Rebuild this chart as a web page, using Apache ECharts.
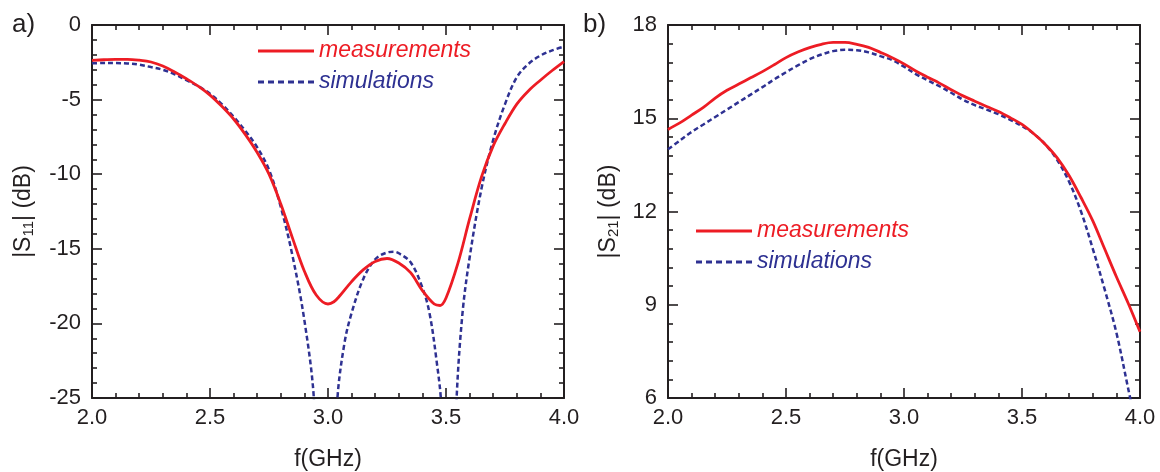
<!DOCTYPE html>
<html>
<head>
<meta charset="utf-8">
<script src="https://cdn.jsdelivr.net/npm/echarts@6/dist/echarts.min.js"></script>
<style>
html,body{margin:0;padding:0;background:#fff;}
#chart{width:1160px;height:472px;}
</style>
</head>
<body>
<div id="chart"></div>
<script>
// ---- Data (a): |S11| (dB) ----
var fS11Meas = [2.00,2.05,2.10,2.15,2.20,2.25,2.30,2.35,2.40,2.45,2.50,2.55,2.60,2.65,2.70,2.75,2.80,2.85,2.90,2.95,3.00,3.025,3.05,3.10,3.15,3.20,3.25,3.30,3.35,3.40,3.45,3.475,3.50,3.55,3.60,3.65,3.70,3.75,3.80,3.85,3.90,3.95,4.00];
var s11Meas  = [-2.37,-2.33,-2.30,-2.30,-2.36,-2.48,-2.75,-3.15,-3.6,-4.1,-4.7,-5.45,-6.3,-7.35,-8.55,-10.0,-12.0,-14.3,-16.5,-18.1,-18.7,-18.55,-18.15,-17.2,-16.4,-15.85,-15.65,-15.95,-16.6,-17.8,-18.7,-18.8,-18.3,-16.0,-13.0,-10.2,-8.1,-6.6,-5.3,-4.4,-3.7,-3.05,-2.45];
var fS11Sim  = [2.00,2.05,2.10,2.15,2.20,2.25,2.30,2.35,2.40,2.45,2.50,2.55,2.60,2.65,2.70,2.75,2.80,2.85,2.90,2.94,2.985,3.04,3.07,3.10,3.15,3.20,3.25,3.28,3.30,3.35,3.40,3.43,3.46,3.48,3.51,3.545,3.57,3.60,3.65,3.70,3.75,3.80,3.85,3.90,3.95,4.00];
var s11Sim   = [-2.57,-2.55,-2.55,-2.58,-2.66,-2.82,-3.0,-3.3,-3.7,-4.1,-4.6,-5.3,-6.15,-7.1,-8.2,-9.7,-12.2,-15.5,-19.8,-25.0,-40,-25.0,-21.3,-19.3,-17.0,-15.7,-15.25,-15.2,-15.3,-15.9,-17.6,-19.3,-22.5,-25.5,-40,-25.0,-19.3,-15.6,-11.0,-7.7,-5.3,-3.5,-2.6,-2.05,-1.7,-1.45];

// ---- Data (b): |S21| (dB) ----
var fS21 = [2.00,2.05,2.10,2.15,2.20,2.25,2.30,2.35,2.40,2.45,2.50,2.55,2.60,2.65,2.70,2.75,2.80,2.85,2.90,2.95,3.00,3.05,3.10,3.15,3.20,3.25,3.30,3.35,3.40,3.45,3.50,3.55,3.60,3.65,3.70,3.75,3.80,3.85,3.90,3.95,4.00];
var s21Meas = [14.64,14.85,15.1,15.35,15.65,15.9,16.1,16.3,16.5,16.72,16.95,17.13,17.27,17.38,17.44,17.44,17.38,17.28,17.12,16.95,16.75,16.52,16.32,16.13,15.92,15.72,15.55,15.38,15.22,15.02,14.8,14.5,14.15,13.72,13.15,12.45,11.7,10.8,9.9,9.05,8.13];
var s21Sim  = [14.0,14.28,14.56,14.8,15.04,15.28,15.52,15.76,16.0,16.25,16.48,16.7,16.9,17.05,17.16,17.2,17.19,17.12,17.0,16.87,16.66,16.42,16.22,16.03,15.82,15.6,15.42,15.28,15.13,14.95,14.75,14.5,14.15,13.65,12.95,12.0,10.8,9.5,8.1,6.3,4.5];

var seriesNames = ['measurements','simulations'];
var panelLabels = ['a)','b)'];
var xName = 'f(GHz)';

function pairs(xs, ys){ return xs.map(function(x,i){ return [x, ys[i]]; }); }

var RED = '#ed1c24', BLUE = '#2e3192', INK = '#231f20';
var FONT = 'Liberation Sans, Arial, Helvetica, sans-serif';

function xAx(gi, pos){
  return {
    type:'value', gridIndex:gi, position:pos, min:2, max:4, interval:0.5,
    name: pos==='bottom' ? xName : '', nameLocation:'middle', nameGap:50,
    nameTextStyle:{fontSize:23, color:INK, fontFamily:FONT},
    axisLine:{show:true, onZero:false, lineStyle:{color:INK, width:2}},
    axisTick:{show:true, inside:true, length:10, lineStyle:{color:INK, width:1.6}},
    minorTick:{show:true, splitNumber:5, length:5, lineStyle:{color:INK, width:1.6}},
    splitLine:{show:false},
    axisLabel:{show: pos==='bottom', fontSize:22, color:INK, fontFamily:FONT, margin:9,
      formatter:function(v){ return v.toFixed(1); }}
  };
}
function yAx(gi, pos, min, max, interval, name, gap){
  return {
    type:'value', gridIndex:gi, position:pos, min:min, max:max, interval:interval,
    name: pos==='left' ? name : '', nameLocation:'middle', nameGap:gap, nameRotate:90,
    nameTextStyle:{fontSize:23, color:INK, fontFamily:FONT,
      rich:{ sub:{fontSize:15, color:INK, fontFamily:FONT, padding:[9,0,0,0]} }},
    axisLine:{show:true, onZero:false, lineStyle:{color:INK, width:2}},
    axisTick:{show:true, inside:true, length:10, lineStyle:{color:INK, width:1.6}},
    minorTick:{show:true, splitNumber:5, length:5, lineStyle:{color:INK, width:1.6}},
    splitLine:{show:false},
    axisLabel:{show: pos==='left', fontSize:22, color:INK, fontFamily:FONT, margin:11}
  };
}

function lineSeries(name, data, xi, yi, color, dashed){
  return {
    type:'line', name:name, data:data, xAxisIndex:xi, yAxisIndex:yi,
    showSymbol:false, symbol:'none', smooth:0.35, clip:true, silent:true,
    lineStyle:{color:color, width: dashed ? 2.5 : 2.8, type: dashed ? [5,3] : 'solid'},
    itemStyle:{color:color}, z: dashed ? 2 : 3
  };
}

var ICON_SOLID = 'path://M0,0h56v3h-56z';
var ICON_DASH  = 'path://M0,0h6v3h-6z M10,0h6v3h-6z M20,0h6v3h-6z M30,0h6v3h-6z M40,0h6v3h-6z M50,0h6v3h-6z';

function legendFor(left, top){
  return {
    orient:'vertical', left:left, top:top, itemWidth:56, itemHeight:3, itemGap:7,
    selectedMode:false,
    textStyle:{fontSize:23, fontStyle:'italic', fontFamily:FONT, lineHeight:24},
    data:[
      {name:seriesNames[0], icon:ICON_SOLID, itemStyle:{color:RED}, textStyle:{color:RED}},
      {name:seriesNames[1], icon:ICON_DASH, itemStyle:{color:BLUE}, textStyle:{color:BLUE}}
    ]
  };
}

var chart = echarts.init(document.getElementById('chart'), null, {renderer:'canvas'});
chart.setOption({
  animation:false,
  backgroundColor:'#fff',
  grid:[
    {left:92, top:25, width:472, height:373, containLabel:false, outerBoundsMode:'none'},
    {left:668, top:25, width:472, height:373, containLabel:false, outerBoundsMode:'none'}
  ],
  xAxis:[ xAx(0,'bottom'), xAx(0,'top'), xAx(1,'bottom'), xAx(1,'top') ],
  yAxis:[
    yAx(0,'left',-25,0,5,'|S{sub|11}| (dB)',56), yAx(0,'right',-25,0,5,'',0),
    yAx(1,'left',6,18,3,'|S{sub|21}| (dB)',47), yAx(1,'right',6,18,3,'',0)
  ],
  legend:[ legendFor(253,34), legendFor(691,214) ],
  graphic:[
    {type:'text', left:12, top:12, style:{text:panelLabels[0], font:'26px '+FONT, fill:INK}},
    {type:'text', left:583, top:12, style:{text:panelLabels[1], font:'26px '+FONT, fill:INK}}
  ],
  series:[
    lineSeries(seriesNames[1], pairs(fS11Sim, s11Sim), 0, 0, BLUE, true),
    lineSeries(seriesNames[0], pairs(fS11Meas, s11Meas), 0, 0, RED, false),
    lineSeries(seriesNames[1], pairs(fS21, s21Sim), 2, 2, BLUE, true),
    lineSeries(seriesNames[0], pairs(fS21, s21Meas), 2, 2, RED, false)
  ]
});
</script>
</body>
</html>
